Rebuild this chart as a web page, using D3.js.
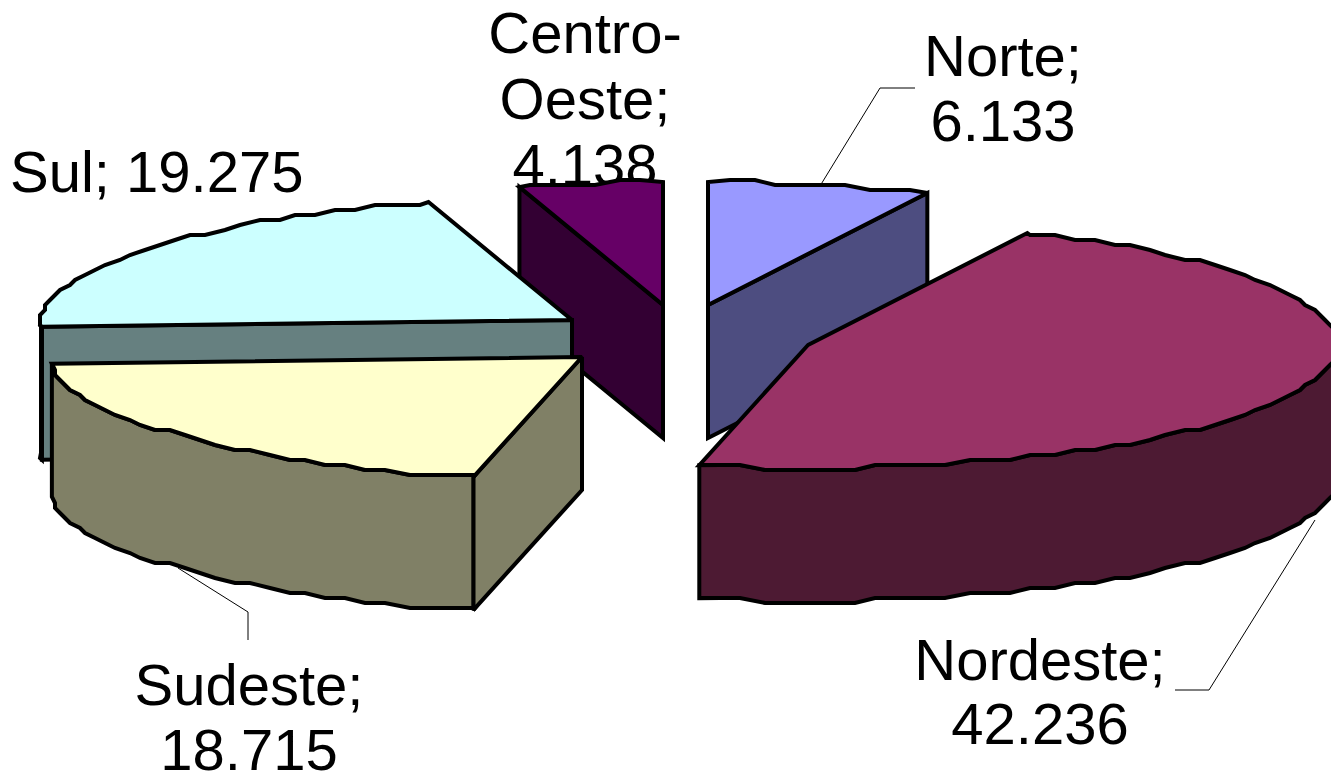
<!DOCTYPE html>
<html>
<head>
<meta charset="utf-8">
<script src="https://cdn.jsdelivr.net/npm/d3@7"></script>
<style>
    html, body { margin: 0; padding: 0; background: #fff; }
    svg { display: block; }
    .label { font-family: "Liberation Sans", Arial, sans-serif; font-size: 58px; fill: #000; }
</style>
</head>
<body>
<div id="chart"></div>
<script>
// data, clockwise from 12 o'clock
const regions = ["Norte", "Nordeste", "Sudeste", "Sul", "Centro-Oeste"];
const values = [6.133, 42.236, 18.715, 19.275, 4.138];
const labelLines = [
    ["Norte;", "6.133"],
    ["Nordeste;", "42.236"],
    ["Sudeste;", "18.715"],
    ["Sul; 19.275"],
    ["Centro-", "Oeste;", "4.138"]
];

// colours of the top faces and the side faces
const topColors = ["#9999FF", "#993366", "#FFFFCC", "#CCFFFF", "#660066"];
const sideColors = ["#4D4D80", "#4D1A33", "#808066", "#668080", "#330033"];

// layout: every slice is pulled out of the pie, so each one has its own apex
const width = 1331, height = 773;
const apexes = [[708, 305], [808, 345], [582, 357], [572, 320], [663, 305]];
const radiusX = 531, radiusY = 123, depth = 133;
const leftSqueeze = 0.05;   // the left half is a bit narrower near the vertical axis
const labelPos = [
    {x: 1003, y: 76, anchor: "middle"},
    {x: 1040, y: 680, anchor: "middle"},
    {x: 249, y: 705, anchor: "middle"},
    {x: 10, y: 192, anchor: "start"},
    {x: 585, y: 53, anchor: "middle"}
];
const labelGap = [65, 64, 65, 0, 66];
const leaders = [
    [[820, 186], [880, 88], [915, 88]],
    [[1315, 520], [1209, 690], [1175, 690]],
    [[178, 568], [248, 612], [248, 640]]
];

const svg = d3.select("#chart").append("svg")
    .attr("width", width)
    .attr("height", height);

// unit circle to pixels, foreshortened
const xScale = d3.scaleLinear().domain([-1, 1]).range([-radiusX, radiusX]);
const yScale = d3.scaleLinear().domain([-1, 1]).range([-radiusY, radiusY]);

const pie = d3.pie().sort(null).startAngle(0).endAngle(2 * Math.PI);
const slices = pie(values).map((d, i) => ({...d, i: i, apex: apexes[i]}));

const STEP = 2.5 * Math.PI / 180;
const GRID = 5;   // the source outline is stair-stepped
const snap = v => Math.round(v / GRID) * GRID;

function rimPoint(s, a, dy) {
    let sx = Math.sin(a), cy = Math.cos(a);
    if (a > Math.PI) sx *= 1 - leftSqueeze * cy * cy;
    return [s.apex[0] + xScale(sx), s.apex[1] - yScale(cy) + dy];
}

// points along the rim between two angles, same sampling for top and wall
function rim(s, a0, a1, dy) {
    let pts = [rimPoint(s, a0, dy)];
    for (let k = Math.floor(a0 / STEP) + 1; k * STEP < a1; k++) {
        let p = rimPoint(s, k * STEP, 0);
        pts.push([snap(p[0]), snap(p[1]) + dy]);
    }
    pts.push(rimPoint(s, a1, dy));
    return pts;
}

const line = d3.line();
const poly = pts => line(pts) + "Z";

// labels go under the slices, the 4.138 is partly covered in the source
svg.append("g").selectAll("path")
    .data(leaders)
    .join("path")
    .attr("d", d => line(d))
    .attr("fill", "none")
    .attr("stroke", "#000")
    .attr("stroke-width", 1);

svg.append("g").selectAll("text")
    .data(labelLines.flatMap((lines, i) => lines.map((t, j) => ({t: t, i: i, j: j}))))
    .join("text")
    .attr("class", "label")
    .attr("x", d => labelPos[d.i].x)
    .attr("y", d => labelPos[d.i].y + d.j * labelGap[d.i])
    .attr("text-anchor", d => labelPos[d.i].anchor)
    .text(d => d.t);

// back slices first
const order = slices.slice().sort((a, b) => a.apex[1] - b.apex[1]);
const groups = svg.append("g").selectAll("g")
    .data(order)
    .join("g")
    .attr("stroke", "#000")
    .attr("stroke-width", 4)
    .attr("stroke-linejoin", "miter")
    .attr("stroke-miterlimit", 2.5);

groups.each(function (s) {
    let g = d3.select(this);
    let sideFaces = [];

    // cut faces that look towards the viewer
    if (s.startAngle > Math.PI && s.startAngle < 2 * Math.PI) sideFaces.push(s.startAngle);
    if (s.endAngle > 0.01 && s.endAngle < Math.PI) sideFaces.push(s.endAngle);
    sideFaces.forEach(a => {
        let p = rimPoint(s, a, 0);
        g.append("path")
            .attr("fill", sideColors[s.i])
            .attr("d", poly([s.apex, p, [p[0], p[1] + depth], [s.apex[0], s.apex[1] + depth]]));
    });

    // outer wall, front half only
    let a0 = Math.max(s.startAngle, Math.PI / 2);
    let a1 = Math.min(s.endAngle, 3 * Math.PI / 2);
    if (a1 > a0) {
        g.append("path")
            .attr("fill", sideColors[s.i])
            .attr("d", poly(rim(s, a0, a1, 0).concat(rim(s, a0, a1, depth).reverse())));
    }

    g.append("path")
        .attr("fill", topColors[s.i])
        .attr("d", poly([s.apex].concat(rim(s, s.startAngle, s.endAngle, 0))));
});
</script>
</body>
</html>
